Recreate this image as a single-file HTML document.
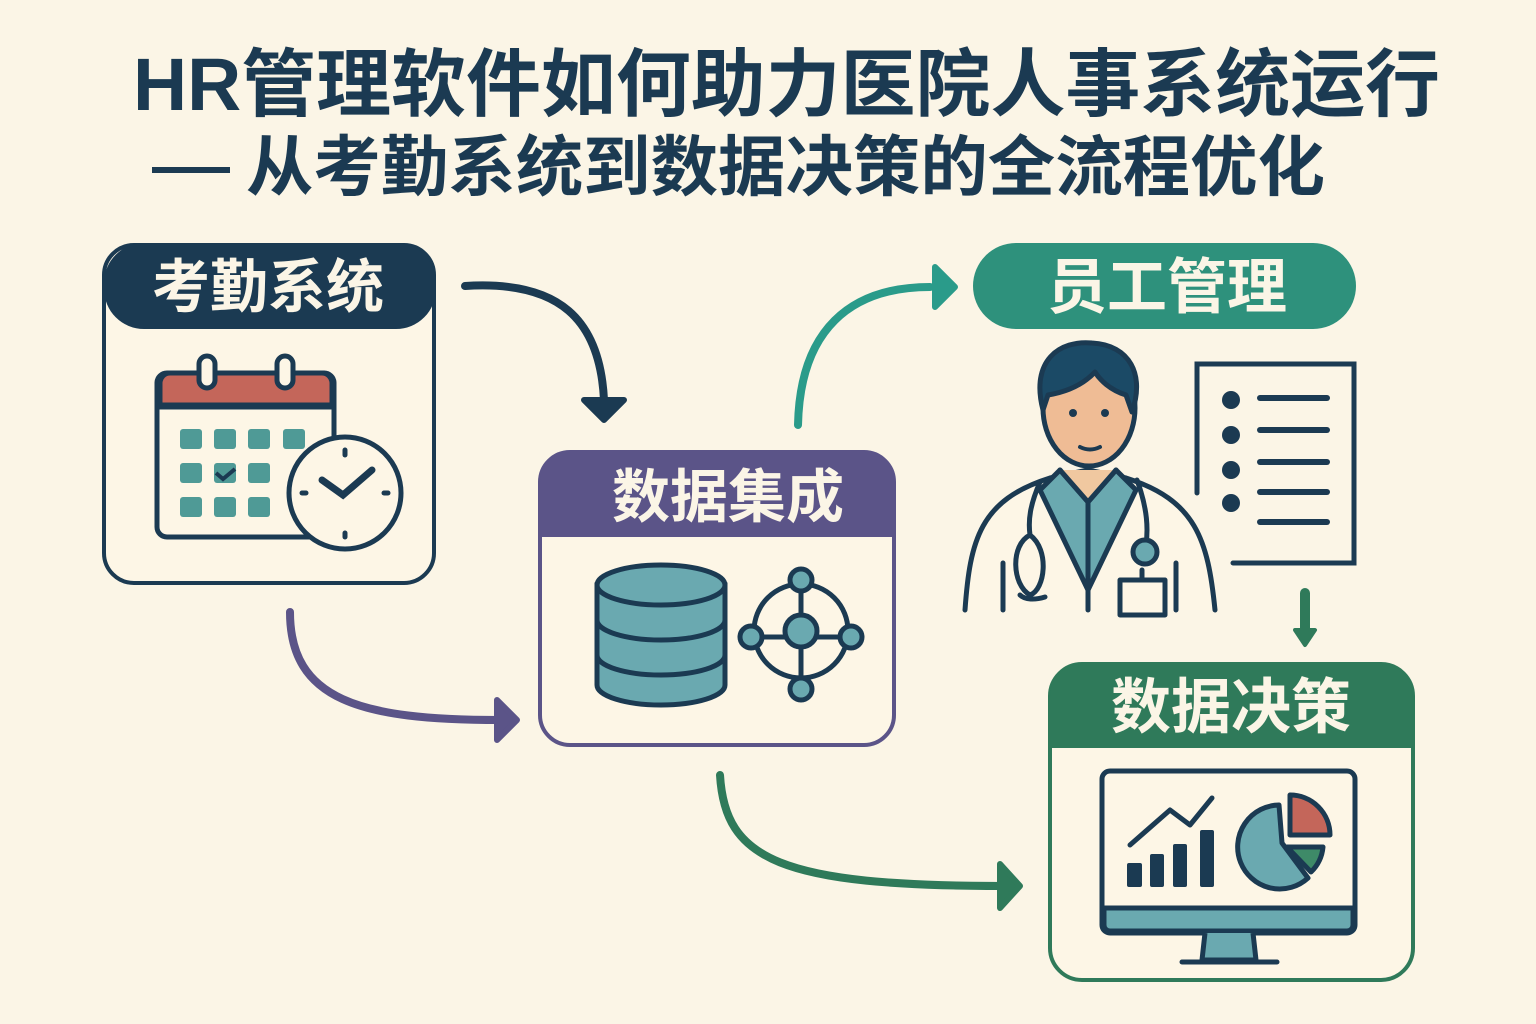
<!DOCTYPE html>
<html><head><meta charset="utf-8"><style>
html,body{margin:0;padding:0;background:#fbf5e6}
svg{display:block}
text{font-family:"Liberation Sans","Noto Sans CJK SC",sans-serif;font-weight:bold}
</style></head><body>
<svg width="1536" height="1024" viewBox="0 0 1536 1024" xmlns="http://www.w3.org/2000/svg">
<rect width="1536" height="1024" fill="#fbf5e6"/>
<text x="133" y="110" font-size="74" fill="#1b3a52" textLength="1307" lengthAdjust="spacingAndGlyphs">HR管理软件如何助力医院人事系统运行</text>
<rect x="152" y="167" width="78" height="6" fill="#1b3a52"/>
<text x="246" y="190" font-size="66" fill="#1b3a52" textLength="1079" lengthAdjust="spacingAndGlyphs">从考勤系统到数据决策的全流程优化</text>

<!-- 考勤系统 -->
<rect x="104" y="245" width="330" height="338" rx="30" fill="#fdf6e6" stroke="#1b3a52" stroke-width="4"/>
<rect x="104" y="243" width="332" height="86" rx="40" fill="#1b3a52"/>
<text x="268" y="307" font-size="58" fill="#fbf5e6" text-anchor="middle">考勤系统</text>
<g stroke="#1b3a52" stroke-width="5">
<rect x="157" y="373" width="177" height="164" rx="10" fill="#fdf6e6"/>
<path d="M160 405 V383 a10 10 0 0 1 10 -10 H322 a10 10 0 0 1 10 10 V405 Z" fill="#c4665a"/>
<line x1="157" y1="407" x2="334" y2="407"/>
<rect x="199" y="356" width="16" height="32" rx="8" fill="#fdf6e6"/>
<rect x="277" y="356" width="16" height="32" rx="8" fill="#fdf6e6"/>
</g>
<g fill="#4f9a96">
<rect x="180" y="429" width="22" height="20" rx="3"/><rect x="214" y="429" width="22" height="20" rx="3"/><rect x="248" y="429" width="22" height="20" rx="3"/><rect x="283" y="429" width="22" height="20" rx="3"/>
<rect x="180" y="463" width="22" height="20" rx="3"/><rect x="214" y="463" width="22" height="20" rx="3"/><rect x="248" y="463" width="22" height="20" rx="3"/>
<rect x="180" y="497" width="22" height="20" rx="3"/><rect x="214" y="497" width="22" height="20" rx="3"/><rect x="248" y="497" width="22" height="20" rx="3"/>
</g>
<path d="M216 473 l7 6 l12 -10" stroke="#1b3a52" stroke-width="4" fill="none"/>
<circle cx="345" cy="493" r="56" fill="#fdf6e6" stroke="#1b3a52" stroke-width="5"/>
<path d="M322 480 L343 495 L372 470" stroke="#1b3a52" stroke-width="7" fill="none" stroke-linecap="round"/>
<g stroke="#1b3a52" stroke-width="5" stroke-linecap="round"><line x1="345" y1="450" x2="345" y2="455"/><line x1="345" y1="533" x2="345" y2="537"/><line x1="302" y1="493" x2="306" y2="493"/><line x1="384" y1="493" x2="388" y2="493"/></g>

<!-- 数据集成 -->
<rect x="540" y="452" width="354" height="293" rx="30" fill="#fdf6e6" stroke="#5b5488" stroke-width="4"/>
<path d="M540 537 V482 a30 30 0 0 1 30 -30 H864 a30 30 0 0 1 30 30 V537 Z" fill="#5b5488"/>
<text x="728" y="517" font-size="58" fill="#fbf5e6" text-anchor="middle">数据集成</text>
<g stroke="#1b3a52" stroke-width="5" fill="#6aa9b0">
<path d="M597 585 V685 a64 20 0 0 0 128 0 V585 Z"/>
<ellipse cx="661" cy="585" rx="64" ry="20"/>
<path d="M597 620 a64 20 0 0 0 128 0 M597 655 a64 20 0 0 0 128 0" fill="none"/>
</g>
<g stroke="#1b3a52" stroke-width="5">
<circle cx="801" cy="631" r="47" fill="none"/>
<line x1="801" y1="580" x2="801" y2="690"/><line x1="748" y1="637" x2="855" y2="637"/>
<g fill="#6aa9b0"><circle cx="801" cy="631" r="16"/><circle cx="801" cy="580" r="11"/><circle cx="801" cy="689" r="11"/><circle cx="751" cy="637" r="11"/><circle cx="851" cy="637" r="11"/></g>
</g>

<!-- 员工管理 -->
<rect x="973" y="243" width="383" height="86" rx="43" fill="#2e917c"/>
<text x="1167" y="308" font-size="60" fill="#fbf5e6" text-anchor="middle">员工管理</text>
<!-- doctor -->
<g stroke="#1b3a52" stroke-width="5" stroke-linejoin="round" stroke-linecap="round">
<path d="M965 610 C970 540 980 500 1050 478 L1088 470 L1126 478 C1196 500 1208 540 1215 610" fill="#fdf6e6"/>
<path d="M1060 470 L1040 490 L1088 590 L1136 490 L1116 470 L1088 502 Z" fill="#6aa9b0"/>
<line x1="1088" y1="502" x2="1088" y2="610"/>
<path d="M1060 470 L1088 502 L1116 470" fill="#f0c8a0"/>
<ellipse cx="1089" cy="408" rx="46" ry="58" fill="#efbc95"/>
<path d="M1043 410 C1030 360 1060 340 1092 343 C1130 345 1145 375 1132 412 L1126 395 C1110 390 1100 380 1095 372 C1080 388 1060 393 1048 395 Z" fill="#1b4a66"/>
<path d="M1040 482 C1030 505 1028 520 1030 535 C1010 545 1012 585 1030 595 C1045 590 1050 550 1030 535 M1020 595 C1025 600 1035 600 1045 597" fill="none"/>
<path d="M1137 480 C1148 510 1148 530 1146 545" fill="none"/>
<circle cx="1145" cy="552" r="12" fill="#6aa9b0"/>
<rect x="1120" y="580" width="45" height="35" fill="#fdf6e6"/>
<line x1="1142" y1="580" x2="1142" y2="570"/>
<line x1="1003" y1="563" x2="1003" y2="610"/><line x1="1176" y1="563" x2="1176" y2="610"/>
</g>
<circle cx="1073" cy="413" r="4" fill="#1b3a52"/><circle cx="1105" cy="413" r="4" fill="#1b3a52"/>
<path d="M1080 447 Q1090 452 1100 447" stroke="#1b3a52" stroke-width="4" fill="none" stroke-linecap="round"/>
<!-- document -->
<path d="M1197 493 V364 H1354 V563 H1233" stroke="#1b3a52" stroke-width="5" fill="none" stroke-linecap="round"/>
<g fill="#1b3a52"><circle cx="1231" cy="400" r="9"/><circle cx="1231" cy="435" r="9"/><circle cx="1231" cy="470" r="9"/><circle cx="1231" cy="503" r="9"/></g>
<g stroke="#1b3a52" stroke-width="6" stroke-linecap="round"><line x1="1260" y1="398" x2="1327" y2="398"/><line x1="1260" y1="430" x2="1327" y2="430"/><line x1="1260" y1="462" x2="1327" y2="462"/><line x1="1260" y1="492" x2="1327" y2="492"/><line x1="1260" y1="522" x2="1327" y2="522"/></g>

<!-- 数据决策 -->
<rect x="1050" y="664" width="363" height="316" rx="32" fill="#fdf6e6" stroke="#2f7a5a" stroke-width="4"/>
<path d="M1050 748 V696 a32 32 0 0 1 32 -32 H1381 a32 32 0 0 1 32 32 V748 Z" fill="#2f7a5a"/>
<text x="1231" y="728" font-size="60" fill="#fbf5e6" text-anchor="middle">数据决策</text>
<g stroke="#1b3a52" stroke-width="5" stroke-linejoin="round">
<rect x="1102" y="771" width="253" height="162" rx="8" fill="#fdf6e6"/>
<path d="M1104 908 H1353 V925 a6 6 0 0 1 -6 6 H1110 a6 6 0 0 1 -6 -6 Z" fill="#6aa9b0"/>
<path d="M1205 933 L1202 960 H1256 L1253 933" fill="#6aa9b0"/>
<line x1="1182" y1="962" x2="1277" y2="962" stroke-linecap="round"/>
<path d="M1279 805 A42 42 0 1 0 1308 878 L1282 843 Z" fill="#6aa9b0"/>
<path d="M1290 795 V835 H1330 A40 40 0 0 0 1290 795 Z" fill="#c4665a"/>
<path d="M1287 847 H1323 A40 40 0 0 1 1311 872 Z" fill="#3e8a68"/>
<path d="M1130 845 L1170 810 L1190 825 L1212 798" fill="none" stroke-linecap="round"/>
</g>
<g fill="#1b3a52"><rect x="1127" y="863" width="15" height="24" rx="2"/><rect x="1150" y="854" width="14" height="33" rx="2"/><rect x="1173" y="844" width="14" height="43" rx="2"/><rect x="1200" y="830" width="14" height="57" rx="2"/></g>

<!-- arrows -->
<g fill="none" stroke-width="8" stroke-linecap="round">
<path d="M465 286 C560 280 600 320 604 400" stroke="#1b3a52"/>
<path d="M290 612 C290 700 360 720 500 720" stroke="#5b5488"/>
<path d="M798 425 C800 330 850 287 930 287" stroke="#2a9b8a"/>
<path d="M720 775 C725 860 780 886 1005 886" stroke="#2f7a5a"/>
<path d="M1305 593 V630" stroke="#2f7a5a" stroke-width="10"/>
</g>
<path d="M584 400 L604 420 L624 400 Z" fill="#1b3a52" stroke="#1b3a52" stroke-width="6" stroke-linejoin="round"/>
<path d="M497 700 L517 720 L497 740 Z" fill="#5b5488" stroke="#5b5488" stroke-width="6" stroke-linejoin="round"/>
<path d="M935 267 L955 287 L935 307 Z" fill="#2a9b8a" stroke="#2a9b8a" stroke-width="6" stroke-linejoin="round"/>
<path d="M1000 864 L1020 886 L1000 908 Z" fill="#2f7a5a" stroke="#2f7a5a" stroke-width="6" stroke-linejoin="round"/>
<path d="M1295 630 L1305 645 L1315 630 Z" fill="#2f7a5a" stroke="#2f7a5a" stroke-width="4" stroke-linejoin="round"/>
</svg>
</body></html>
